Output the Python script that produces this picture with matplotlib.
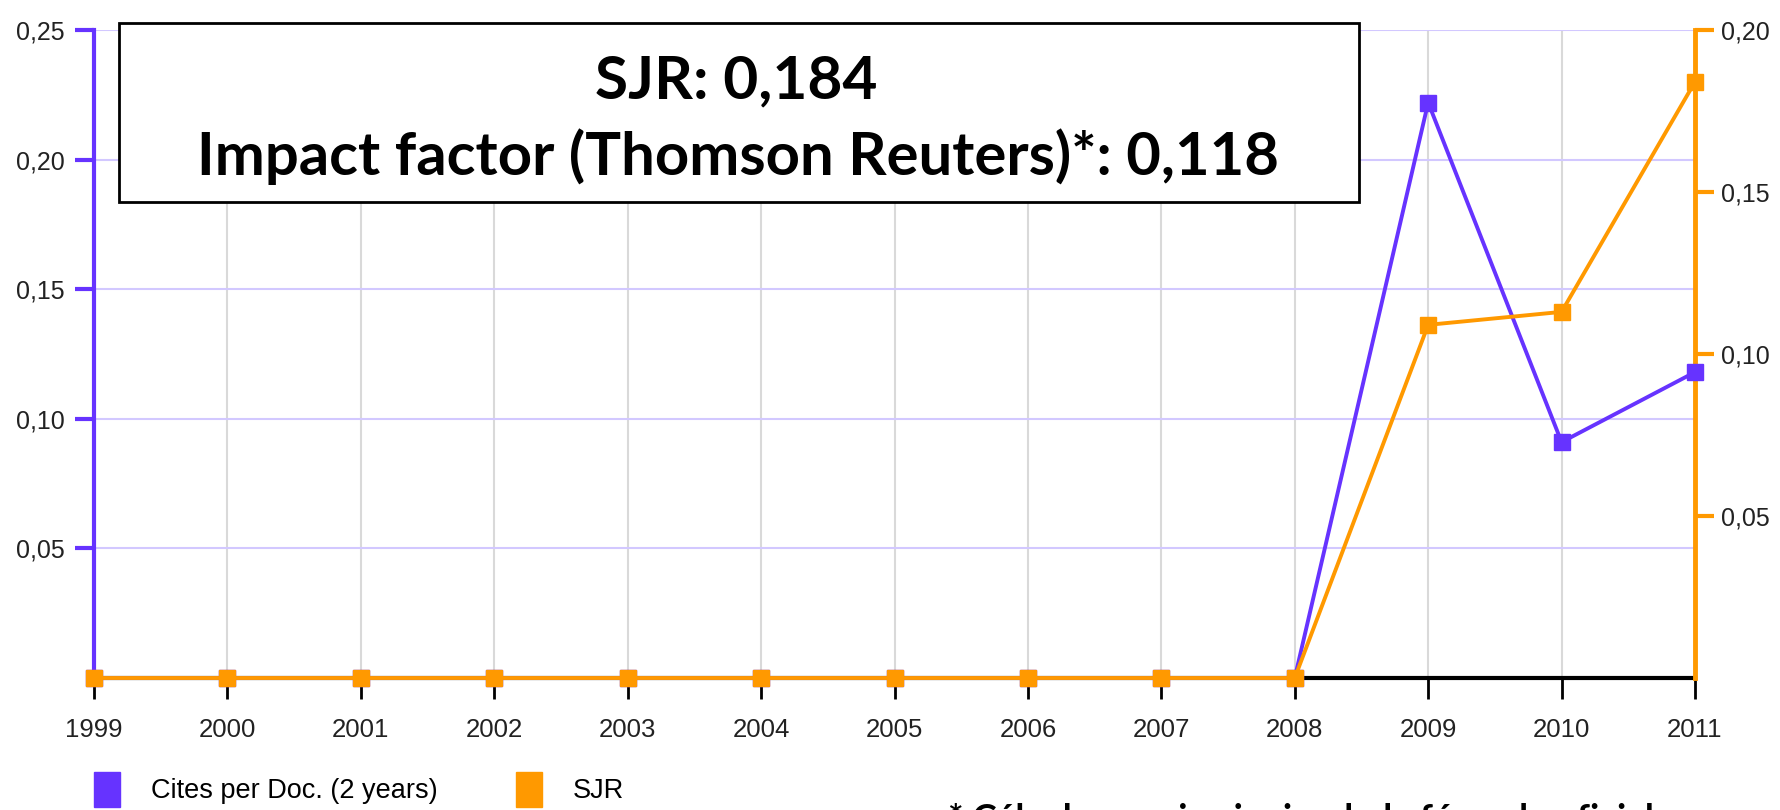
import matplotlib
matplotlib.use("Agg")
import matplotlib.pyplot as plt
from matplotlib.patches import Patch, Rectangle
from matplotlib.ticker import FuncFormatter

plt.rcParams['font.family'] = ['Liberation Sans', 'DejaVu Sans']

years = [1999, 2000, 2001, 2002, 2003, 2004, 2005, 2006, 2007, 2008, 2009, 2010, 2011]
cites = [0, 0, 0, 0, 0, 0, 0, 0, 0, 0, 0.222, 0.091, 0.118]
sjr = [0, 0, 0, 0, 0, 0, 0, 0, 0, 0, 0.109, 0.113, 0.184]
left_ticks = [0.05, 0.10, 0.15, 0.20, 0.25]
right_ticks = [0.05, 0.10, 0.15, 0.20]

purple = "#6633ff"
orange = "#ff9900"
W, H = 1780, 810


def comma(v, pos):
    return f"{v:.2f}".replace(".", ",")


fig = plt.figure(figsize=(W / 100, H / 100), dpi=100)
ax = fig.add_axes([94 / W, 1 - 678 / H, (1695 - 94) / W, (678 - 30) / H])
ax2 = ax.twinx()

ax.set_xlim(1999, 2011)
ax.set_ylim(0, 0.25)
ax2.set_ylim(0, 0.20)

# both series live in ax2 so the markers sit above the right spine;
# cites uses the left scale through ax.transData
ax2.plot(years, cites, color=purple, lw=2.8, marker="s", ms=12, clip_on=False,
         zorder=3, transform=ax.transData)
ax2.plot(years, sjr, color=orange, lw=2.8, marker="s", ms=12, clip_on=False, zorder=4)
ax2.set_ylim(0, 0.20)

ax.set_xticks(years)
ax.set_yticks(left_ticks)
ax2.set_yticks(right_ticks)
ax.yaxis.set_major_formatter(FuncFormatter(comma))
ax2.yaxis.set_major_formatter(FuncFormatter(comma))

ax.grid(axis="y", color="#d2c8ff", lw=1.5)
ax.grid(axis="x", color="#d9d9d9", lw=1.5)
ax.set_axisbelow(True)

for s in ["top", "right"]:
    ax.spines[s].set_visible(False)
for s in ["top", "left", "bottom"]:
    ax2.spines[s].set_visible(False)
ax.spines["left"].set_color(purple)
ax.spines["left"].set_linewidth(3)
ax.spines["bottom"].set_color("black")
ax.spines["bottom"].set_linewidth(3)
ax2.spines["right"].set_color(orange)
ax2.spines["right"].set_linewidth(3.5)
ax2.spines["right"].set_zorder(2)

ax.tick_params(axis="y", colors=purple, labelcolor="#222222", length=14, width=3,
               pad=7, labelsize=18)
ax.tick_params(axis="x", colors="black", labelcolor="#222222", length=15, width=2,
               pad=14, labelsize=18.5)
ax2.tick_params(axis="y", colors=orange, labelcolor="#222222", length=14, width=3,
                pad=5, labelsize=18)

# legend
handles = [Patch(color=purple), Patch(color=orange)]
fig.legend(handles, ["Cites per Doc. (2 years)", "SJR"], loc="upper left",
           bbox_to_anchor=(94 / W, 1 - 772 / H), ncol=2, frameon=False,
           fontsize=19.5, handlelength=0.95, handleheight=1.6, handletextpad=1.15,
           columnspacing=2.9, borderpad=0, borderaxespad=0)

# info box
fig.add_artist(Rectangle((119 / W, 1 - 202 / H), (1359 - 119) / W, (202 - 23) / H,
                         transform=fig.transFigure, facecolor="white",
                         edgecolor="black", lw=2, zorder=5))
fig.text(736 / W, 1 - 81 / H, "SJR: 0,184", ha="center", va="center",
         fontsize=43.5, fontweight="bold", family="Lato", zorder=6)
fig.text(738 / W, 1 - 157 / H, "Impact factor (Thomson Reuters)*: 0,118",
         ha="center", va="center", fontsize=43, fontweight="bold",
         family="Lato", zorder=6)

# footnote, cut by the bottom edge
fig.text(948 / W, -0.025, "* Cálculo propio siguiendo la fórmula oficial",
         ha="left", va="baseline", fontsize=26.5, fontweight="bold", family="Lato")

fig.savefig("out.png", dpi=100)
